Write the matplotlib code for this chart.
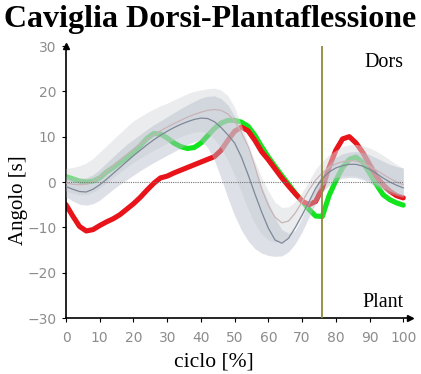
import matplotlib.pyplot as plt
import numpy as np

# ciclo del passo [%]
ciclo = list(range(0, 101, 2))

# paziente - lato sinistro (verde) e destro (rosso)
sinistro = [1.2, 0.7, 0.2, 0.0, 0.2, 0.9, 2.2, 3.2, 4.3, 5.3,
            6.5, 8.0, 9.6, 10.7, 10.6, 9.7, 8.6, 7.8, 7.4, 7.6,
            8.6, 10.2, 11.8, 13.0, 13.6, 13.6, 13.2, 12.3, 10.3, 7.8,
            5.5, 3.4, 1.4, -0.5, -2.5, -4.2, -6.0, -7.5, -7.6, -3.0,
            0.3, 3.2, 5.0, 5.5, 4.3, 2.0, -0.5, -2.8, -3.9, -4.6, -5.1]
destro = [-5.0, -7.5, -9.8, -10.8, -10.5, -9.6, -8.8, -8.1, -7.2, -6.0,
          -4.8, -3.4, -1.8, -0.3, 0.9, 1.3, 2.0, 2.6, 3.2, 3.8,
          4.4, 5.0, 5.6, 7.0, 9.2, 11.2, 12.1, 11.3, 9.2, 6.7,
          4.9, 2.9, 0.9, -0.9, -2.6, -4.2, -5.0, -4.3, -1.3, 3.2,
          7.0, 9.5, 10.0, 8.6, 6.5, 3.9, 1.3, -0.6, -2.0, -3.0, -3.5]

# fascia normativa chiara
norm1_sup = [3.0, 3.2, 3.6, 4.2, 5.2, 6.6, 8.0, 9.4, 10.8, 12.2,
             13.5, 14.4, 15.3, 16.1, 16.8, 17.4, 18.1, 18.8, 19.5, 20.0,
             20.3, 20.6, 20.7, 20.3, 19.0, 16.5, 12.5, 8.5, 4.5, 1.0,
             -2.0, -4.5, -5.6, -5.5, -4.3, -2.3, 0.2, 2.8, 4.6, 6.0,
             7.0, 7.8, 8.2, 8.3, 8.0, 7.5, 6.8, 5.9, 4.9, 3.9, 3.0]
norm1_med = [-0.2, -0.5, -0.6, -0.5, 0.1, 1.1, 2.3, 3.6, 4.9, 6.1,
             7.3, 8.4, 9.4, 10.4, 11.3, 12.1, 12.9, 13.6, 14.3, 14.9,
             15.4, 15.8, 16.0, 15.8, 15.0, 13.4, 11.0, 7.8, 3.5, -1.5,
             -5.2, -7.8, -9.0, -8.6, -6.8, -4.4, -1.8, 0.4, 2.0, 3.2,
             4.0, 4.5, 4.7, 4.6, 4.2, 3.5, 2.6, 1.7, 0.8, 0.0, -0.6]
norm1_inf = [-2.0, -2.5, -2.8, -2.8, -2.3, -1.3, -0.2, 1.0, 2.2, 3.3,
             4.3, 5.3, 6.2, 7.0, 7.8, 8.6, 9.3, 10.0, 10.6, 11.0,
             11.2, 10.8, 9.5, 7.5, 4.8, 1.5, -2.2, -6.0, -9.2, -11.5,
             -12.8, -13.3, -13.0, -12.0, -10.2, -7.8, -5.0, -2.5, -0.8, 0.3,
             1.0, 1.3, 1.4, 1.3, 0.9, 0.3, -0.5, -1.3, -2.0, -2.6, -3.0]

# fascia normativa scura
norm2_sup = [1.3, 1.0, 0.8, 0.9, 1.6, 2.8, 4.2, 5.6, 7.0, 8.3,
             9.4, 10.5, 11.6, 12.6, 13.5, 14.4, 15.3, 16.2, 17.0, 17.8,
             18.5, 18.9, 19.0, 18.4, 17.0, 14.5, 11.0, 7.0, 3.0, -1.0,
             -4.5, -8.0, -10.5, -11.3, -10.6, -8.0, -4.5, -1.0, 2.0, 4.0,
             5.5, 6.2, 6.6, 6.7, 6.5, 6.0, 5.3, 4.6, 3.9, 3.4, 3.1]
norm2_med = [-1.0, -1.6, -2.1, -2.2, -1.6, -0.6, 0.6, 1.9, 3.2, 4.5,
             5.8, 7.0, 8.2, 9.3, 10.3, 11.2, 12.0, 12.7, 13.3, 13.8,
             14.1, 14.0, 13.3, 12.0, 10.4, 8.6, 5.5, 1.6, -2.6, -6.6,
             -10.2, -12.8, -13.5, -12.4, -10.0, -7.3, -4.4, -1.4, 0.8, 2.2,
             3.1, 3.6, 3.9, 3.9, 3.5, 2.8, 1.9, 0.9, 0.0, -0.7, -1.3]
norm2_inf = [-3.3, -4.2, -4.9, -5.1, -4.8, -4.0, -2.8, -1.6, -0.5, 0.5,
             1.5, 2.5, 3.4, 4.3, 5.1, 5.9, 6.7, 7.5, 8.3, 8.9,
             9.2, 7.6, 4.8, 0.8, -3.5, -7.4, -10.6, -13.0, -14.7, -15.7,
             -16.2, -16.4, -16.3, -15.4, -13.6, -11.0, -7.8, -4.8, -2.3, -0.7,
             0.3, 0.8, 1.0, 0.9, 0.5, -0.2, -1.0, -1.8, -2.5, -3.0, -3.4]

stacco_piede = 76   # toe-off [%]
y_ticks = [-30, -20, -10, 0, 10, 20, 30]
x_ticks = list(range(0, 101, 10))

serif = 'Liberation Serif'

fig = plt.figure(figsize=(4.21, 3.74), dpi=100)
ax = fig.add_axes([0.1568, 0.1497, 0.8171, 0.7273])

# curve del paziente (destro sopra sinistro), poi le fasce normative
ax.plot(ciclo, sinistro, color='#12e41e', lw=3.7, solid_capstyle='round', zorder=2)
ax.plot(ciclo, destro, color='#e8141a', lw=3.7, solid_capstyle='round', zorder=2)

ax.fill_between(ciclo, norm1_inf, norm1_sup, color='#d9dade', alpha=0.5, lw=0, zorder=3)
ax.fill_between(ciclo, norm2_inf, norm2_sup, color='#b4bcc9', alpha=0.45, lw=0, zorder=3)
ax.plot(ciclo, norm1_med, color='#c8b4b8', lw=0.9, zorder=4)
ax.plot(ciclo, norm2_med, color='#7d8898', lw=0.9, zorder=4)

ax.axhline(0, xmax=100 / 102, color='#777777', lw=0.8, ls=(0, (1, 1)), zorder=4)

ax.axvline(stacco_piede, color='#8f8a3a', lw=1.3, zorder=6)

ax.set_xlim(0, 102)
ax.set_ylim(-30, 30)
ax.set_xticks(x_ticks)
ax.set_yticks(y_ticks)
ax.set_yticklabels([str(v).replace('-', '\u2212') for v in y_ticks])

for s in ['top', 'right']:
    ax.spines[s].set_visible(False)
for s in ['left', 'bottom']:
    ax.spines[s].set_linewidth(1.2)
ax.tick_params(direction='out', length=3, width=0.8, colors='black',
               labelcolor='#8c8c8c', labelsize=10)
ax.tick_params(axis='x', pad=6)
ax.tick_params(axis='y', pad=4)

# frecce sugli assi
ax.plot(1, -30, '>k', ms=4, transform=ax.get_yaxis_transform(), clip_on=False)
ax.plot(0, 1, '^k', ms=4, transform=ax.get_xaxis_transform(), clip_on=False)

ax.text(100, 26.3, 'Dors', ha='right', va='center', fontsize=14.5, family=serif)
ax.text(100, -26.6, 'Plant', ha='right', va='center', fontsize=14.5, family=serif)

fig.text(0.5, 0.947, 'Caviglia Dorsi-Plantaflessione', ha='center', va='center',
         fontsize=23, fontweight='bold', family=serif)
fig.text(0.043, 0.465, 'Angolo [s]', rotation=90, ha='center', va='center',
         fontsize=15, family=serif)
fig.text(0.508, 0.032, 'ciclo [%]', ha='center', va='center',
         fontsize=15.5, family=serif)

fig.savefig('out.png', dpi=100)
